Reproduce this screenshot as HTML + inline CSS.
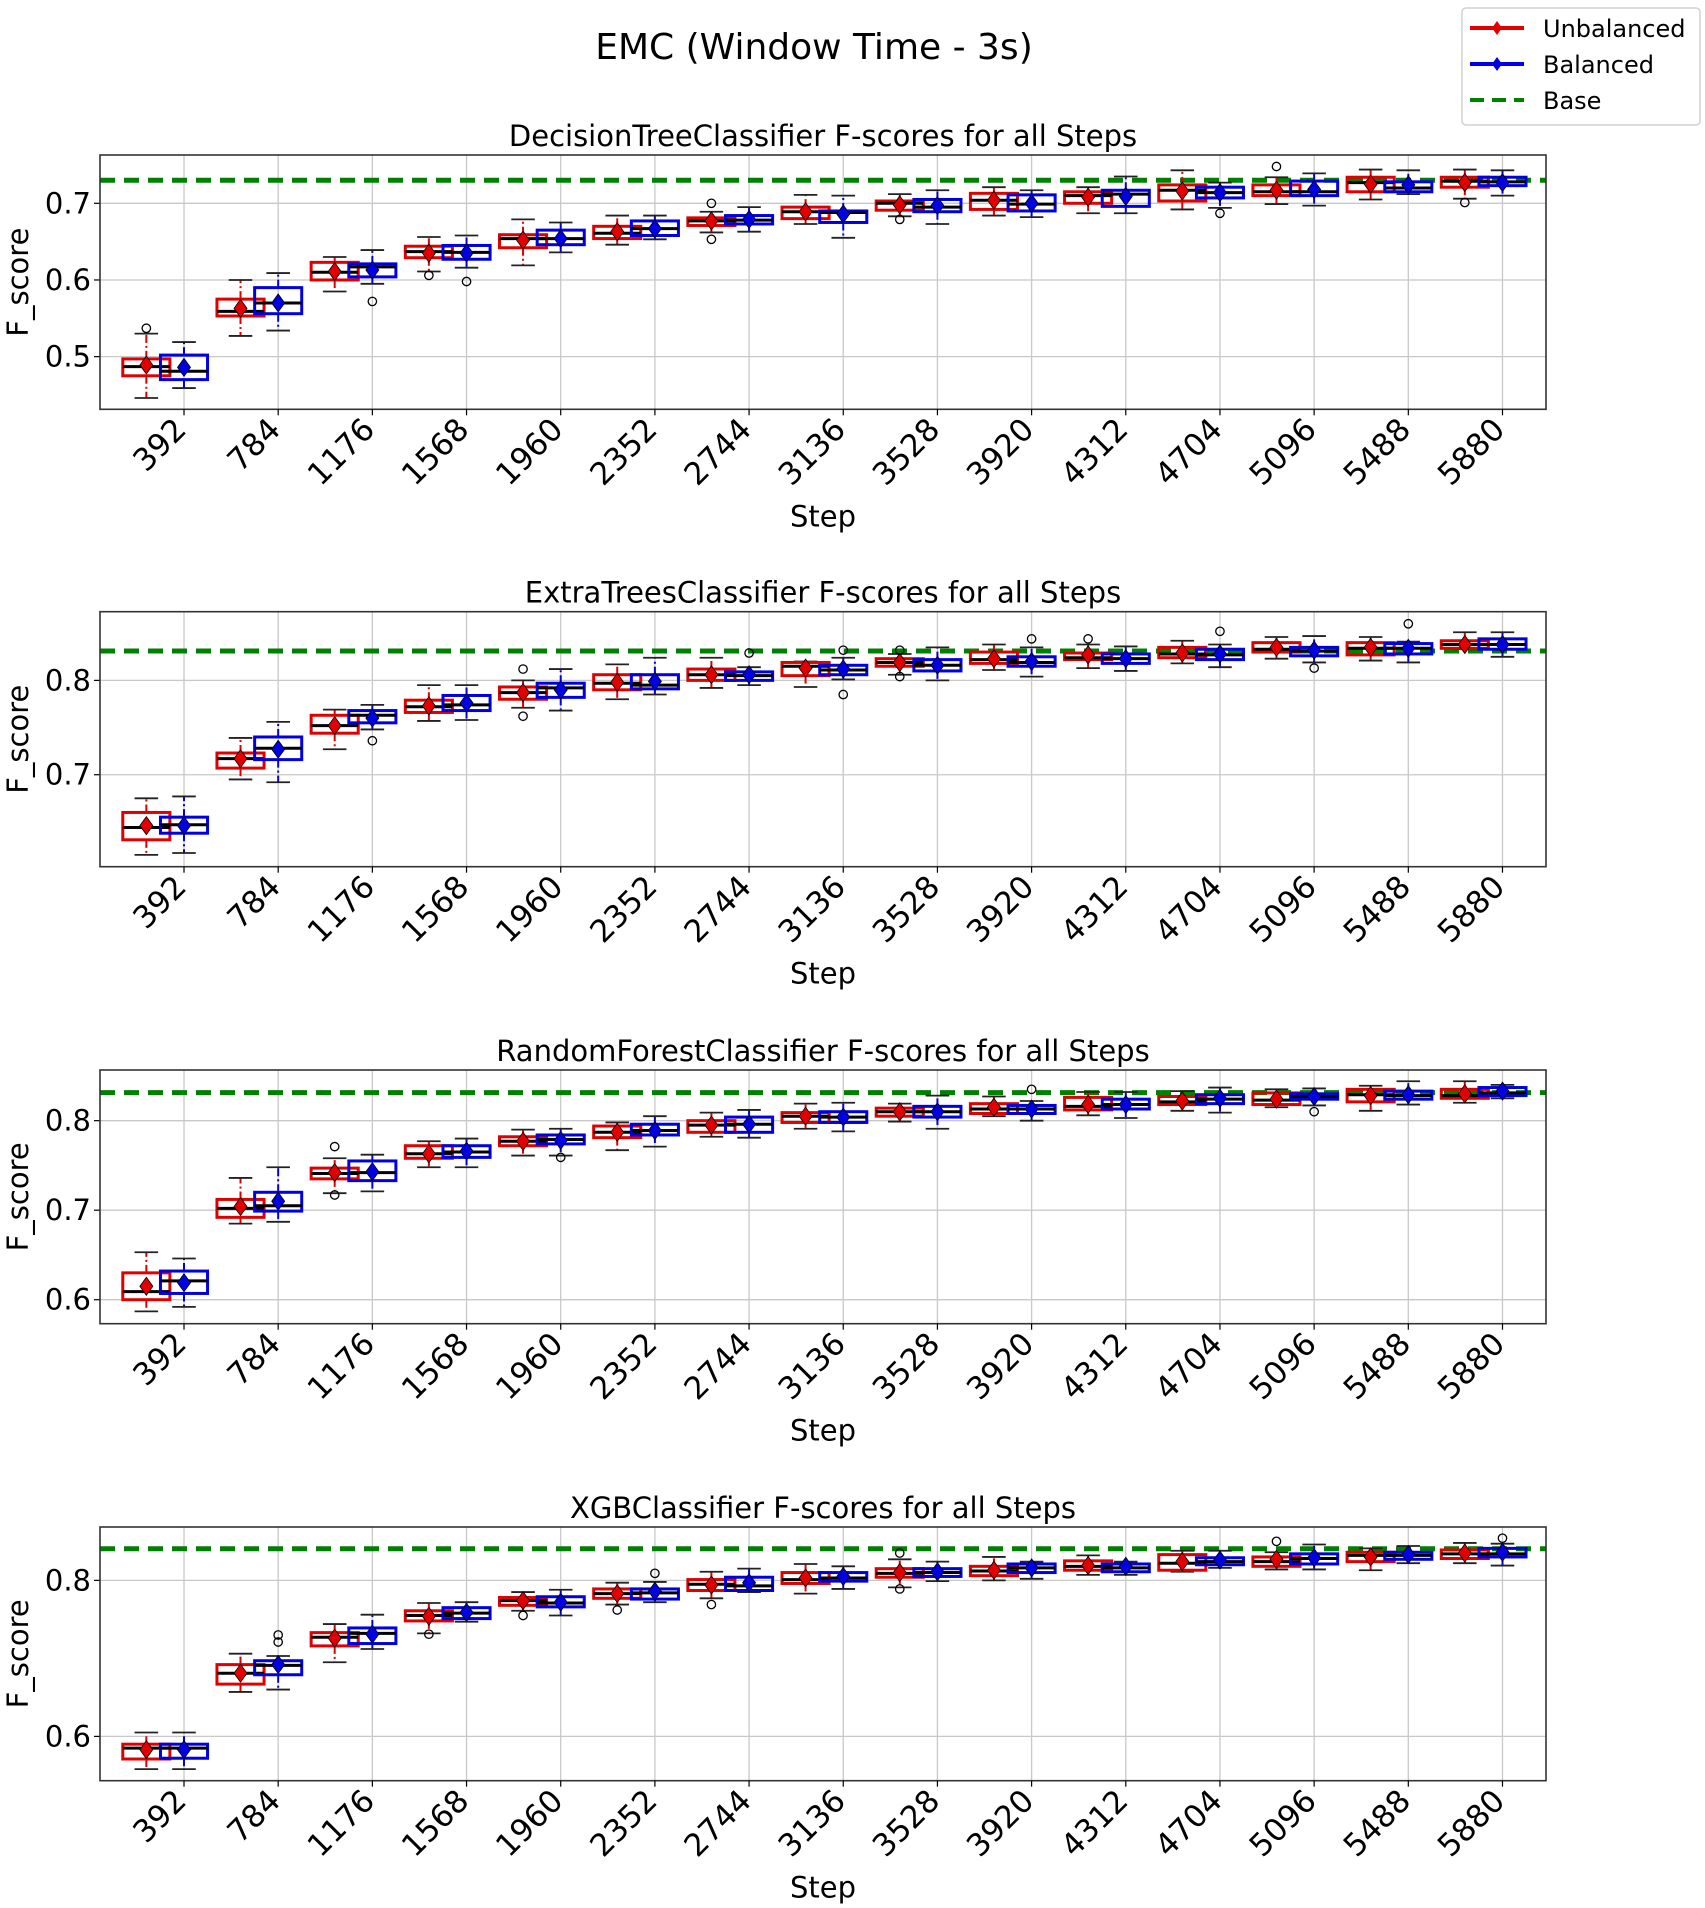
<!DOCTYPE html>
<html><head><meta charset="utf-8"><style>
html,body{margin:0;padding:0;background:#fff;}
svg{display:block;font-family:"DejaVu Sans","Liberation Sans",sans-serif;}
</style></head><body>
<svg id="chart" width="1705" height="1908" viewBox="0 0 1705 1908" xmlns="http://www.w3.org/2000/svg">
<rect width="1705" height="1908" fill="#fff"/>
<text x="814" y="59" font-size="36" text-anchor="middle" fill="#000">EMC (Window Time - 3s)</text>
<g>
<rect x="1462" y="8" width="238" height="117" rx="4" fill="#fff" stroke="#d0d0d0" stroke-width="1.5"/>
<g><line x1="1470" y1="28" x2="1524" y2="28" stroke="#e00000" stroke-width="4"/><path d="M1497 21 L1502 28 L1497 35 L1492 28Z" fill="#e00000"/><text x="1543" y="37" font-size="24">Unbalanced</text></g>
<g><line x1="1470" y1="64" x2="1524" y2="64" stroke="#0000e0" stroke-width="4"/><path d="M1497 57 L1502 64 L1497 71 L1492 64Z" fill="#0000e0"/><text x="1543" y="73" font-size="24">Balanced</text></g>
<g><line x1="1470" y1="100" x2="1524" y2="100" stroke="#008000" stroke-width="4" stroke-dasharray="14,8"/><text x="1543" y="109" font-size="24">Base</text></g>
</g>
</svg>
<script>
const steps = ["392","784","1176","1568","1960","2352","2744","3136","3528","3920","4312","4704","5096","5488","5880"];
const titles = ["DecisionTreeClassifier F-scores for all Steps","ExtraTreesClassifier F-scores for all Steps","RandomForestClassifier F-scores for all Steps","XGBClassifier F-scores for all Steps"];
const baseValues = [0.730, 0.8311, 0.8313, 0.8406];
const yTicks = [[0.5,0.6,0.7],[0.7,0.8],[0.6,0.7,0.8],[0.6,0.8]];
const yDomains = [[0.4313,0.763],[0.6025,0.8728],[0.5732,0.8566],[0.5432,0.8684]];

// Panel 1 - DecisionTree
const p1_uLo=[.446,.527,.585,.611,.619,.646,.662,.673,.683,.684,.687,.692,.699,.705,.706];
const p1_uQ1=[.475,.553,.600,.629,.642,.654,.671,.680,.691,.692,.700,.703,.710,.715,.721];
const p1_uMed=[.487,.559,.610,.637,.654,.661,.677,.689,.700,.704,.710,.717,.715,.727,.729];
const p1_uQ3=[.497,.575,.623,.644,.659,.670,.681,.695,.703,.713,.715,.724,.724,.734,.734];
const p1_uHi=[.530,.600,.630,.656,.679,.684,.689,.711,.712,.721,.721,.743,.734,.744,.744];
const p1_uMean=[.489,.563,.611,.635,.652,.663,.677,.689,.698,.704,.708,.716,.717,.725,.727];
const p1_bLo=[.459,.534,.595,.616,.636,.653,.663,.655,.673,.682,.687,.694,.697,.712,.710];
const p1_bQ1=[.470,.556,.604,.627,.646,.658,.673,.675,.689,.690,.696,.707,.710,.715,.723];
const p1_bMed=[.481,.570,.617,.636,.654,.667,.678,.688,.695,.699,.712,.714,.715,.720,.728];
const p1_bQ3=[.502,.590,.621,.645,.665,.677,.684,.690,.705,.711,.717,.721,.729,.728,.734];
const p1_bHi=[.519,.609,.639,.658,.675,.684,.695,.710,.717,.717,.735,.727,.739,.743,.743];
const p1_bMean=[.486,.570,.613,.635,.654,.667,.679,.686,.697,.700,.709,.714,.718,.724,.727];
const p1_outStep=[0,2,3,3,6,6,8,11,12,14];
const p1_outSeries=["u","b","u","b","u","u","u","b","u","u"];
const p1_outVal=[.537,.572,.606,.598,.700,.653,.679,.687,.748,.701];

// Panel 2 - ExtraTrees
const p2_uLo=[.615,.695,.727,.757,.771,.780,.792,.793,.806,.811,.813,.818,.823,.821,.833];
const p2_uQ1=[.631,.707,.744,.766,.780,.790,.800,.805,.815,.818,.822,.824,.830,.827,.834];
const p2_uMed=[.644,.717,.752,.772,.787,.797,.806,.815,.819,.822,.824,.828,.833,.834,.838];
const p2_uQ3=[.660,.723,.763,.779,.793,.806,.812,.819,.823,.830,.829,.835,.840,.840,.842];
const p2_uHi=[.675,.739,.769,.795,.800,.817,.824,.820,.828,.838,.838,.842,.846,.846,.851];
const p2_uMean=[.646,.717,.752,.773,.787,.798,.806,.813,.819,.823,.827,.829,.835,.835,.838];
const p2_bLo=[.617,.692,.748,.758,.768,.785,.795,.801,.800,.804,.810,.814,.819,.819,.825];
const p2_bQ1=[.638,.716,.755,.768,.782,.791,.800,.806,.810,.815,.818,.822,.826,.828,.833];
const p2_bMed=[.647,.728,.763,.774,.792,.795,.805,.811,.816,.819,.823,.827,.831,.834,.838];
const p2_bQ3=[.655,.740,.768,.784,.797,.806,.809,.816,.822,.825,.828,.833,.835,.839,.844];
const p2_bHi=[.677,.756,.774,.795,.812,.824,.814,.824,.835,.835,.836,.838,.847,.841,.851];
const p2_bMean=[.646,.727,.760,.776,.790,.799,.806,.812,.816,.820,.823,.828,.832,.834,.838];
const p2_outStep=[2,4,4,6,7,7,8,8,9,10,11,12,13];
const p2_outSeries=["b","u","u","b","b","b","u","u","b","u","b","b","b"];
const p2_outVal=[.736,.812,.762,.829,.832,.785,.832,.804,.844,.844,.852,.813,.860];

// Panel 3 - RandomForest
const p3_uLo=[.587,.685,.719,.748,.761,.767,.782,.791,.799,.805,.806,.811,.815,.811,.820];
const p3_uQ1=[.600,.692,.735,.758,.772,.781,.787,.798,.805,.808,.812,.818,.818,.821,.825];
const p3_uMed=[.609,.702,.741,.763,.777,.787,.795,.805,.810,.813,.816,.821,.823,.829,.828];
const p3_uQ3=[.630,.712,.747,.772,.782,.794,.800,.809,.814,.819,.826,.827,.831,.835,.835];
const p3_uHi=[.653,.736,.758,.777,.790,.798,.809,.819,.819,.827,.832,.833,.835,.839,.844];
const p3_uMean=[.615,.704,.742,.763,.777,.787,.795,.805,.810,.815,.818,.822,.824,.828,.830];
const p3_bLo=[.592,.687,.721,.748,.761,.771,.781,.788,.791,.800,.803,.809,.817,.818,.825];
const p3_bQ1=[.607,.699,.733,.759,.774,.784,.787,.798,.804,.808,.813,.819,.824,.824,.828];
const p3_bMed=[.621,.705,.742,.765,.779,.789,.796,.804,.810,.813,.818,.824,.827,.828,.831];
const p3_bQ3=[.632,.720,.755,.772,.784,.796,.804,.810,.816,.817,.824,.829,.830,.833,.837];
const p3_bHi=[.646,.748,.762,.780,.791,.805,.812,.820,.828,.822,.832,.837,.836,.844,.840];
const p3_bMean=[.619,.710,.743,.766,.778,.789,.796,.804,.810,.813,.818,.825,.827,.829,.833];
const p3_outStep=[2,2,4,9,12];
const p3_outSeries=["u","u","b","b","b"];
const p3_outVal=[.771,.717,.759,.835,.810];

// Panel 4 - XGB
const p4_uLo=[.558,.657,.695,.732,.761,.769,.777,.783,.791,.800,.807,.811,.814,.813,.822];
const p4_uQ1=[.571,.667,.716,.748,.768,.777,.787,.796,.804,.806,.813,.813,.818,.824,.828];
const p4_uMed=[.585,.681,.727,.755,.774,.783,.795,.801,.809,.812,.818,.822,.824,.832,.834];
const p4_uQ3=[.590,.692,.733,.761,.778,.789,.801,.810,.815,.818,.825,.833,.830,.836,.839];
const p4_uHi=[.605,.706,.744,.771,.785,.797,.811,.821,.827,.830,.832,.838,.836,.841,.848];
const p4_uMean=[.583,.681,.726,.754,.774,.783,.794,.803,.810,.813,.819,.824,.827,.830,.835];
const p4_bLo=[.558,.660,.712,.747,.755,.772,.785,.789,.799,.802,.807,.816,.814,.822,.819];
const p4_bQ1=[.572,.679,.719,.751,.766,.776,.787,.799,.805,.810,.811,.820,.821,.827,.830];
const p4_bMed=[.585,.691,.732,.758,.771,.784,.793,.803,.810,.816,.816,.824,.828,.832,.834];
const p4_bQ3=[.590,.697,.739,.765,.779,.789,.804,.810,.815,.821,.821,.829,.834,.836,.841];
const p4_bHi=[.605,.703,.756,.772,.788,.798,.815,.818,.824,.824,.824,.838,.846,.844,.847];
const p4_bMean=[.583,.692,.731,.759,.772,.786,.797,.805,.811,.816,.818,.826,.829,.833,.836];
const p4_outStep=[1,1,3,4,5,5,6,8,8,12,14];
const p4_outSeries=["b","b","u","u","u","b","u","u","u","u","b"];
const p4_outVal=[.730,.721,.731,.755,.762,.809,.769,.835,.789,.850,.854];

const panels = [
 {u:[p1_uLo,p1_uQ1,p1_uMed,p1_uQ3,p1_uHi,p1_uMean], b:[p1_bLo,p1_bQ1,p1_bMed,p1_bQ3,p1_bHi,p1_bMean], os:p1_outStep, oser:p1_outSeries, ov:p1_outVal},
 {u:[p2_uLo,p2_uQ1,p2_uMed,p2_uQ3,p2_uHi,p2_uMean], b:[p2_bLo,p2_bQ1,p2_bMed,p2_bQ3,p2_bHi,p2_bMean], os:p2_outStep, oser:p2_outSeries, ov:p2_outVal},
 {u:[p3_uLo,p3_uQ1,p3_uMed,p3_uQ3,p3_uHi,p3_uMean], b:[p3_bLo,p3_bQ1,p3_bMed,p3_bQ3,p3_bHi,p3_bMean], os:p3_outStep, oser:p3_outSeries, ov:p3_outVal},
 {u:[p4_uLo,p4_uQ1,p4_uMed,p4_uQ3,p4_uHi,p4_uMean], b:[p4_bLo,p4_bQ1,p4_bMed,p4_bQ3,p4_bHi,p4_bMean], os:p4_outStep, oser:p4_outSeries, ov:p4_outVal}
];

const NS="http://www.w3.org/2000/svg";
const svg=document.getElementById("chart");
function mk(tag,attrs,parent){const e=document.createElementNS(NS,tag);for(const k in attrs)e.setAttribute(k,attrs[k]);(parent||svg).appendChild(e);return e;}

const plotLeft=100, plotRight=1546;
const tops=[155,611.7,1070,1527], bottoms=[409.3,866.7,1323.7,1780.7];
const xMin=-0.892, xMax=14.462;
function xs(v){return plotLeft+(v-xMin)/(xMax-xMin)*(plotRight-plotLeft);}
const colors={u:"#e00000",b:"#0000e0"};
const offsets={u:-0.4,b:0};
const boxW=0.5;

panels.forEach((p,pi)=>{
  const top=tops[pi], bot=bottoms[pi], dom=yDomains[pi];
  const ys=v=>bot-(v-dom[0])/(dom[1]-dom[0])*(bot-top);
  const g=mk("g",{});
  
  
  const t=mk("text",{x:823,y:top-9,"font-size":29,"text-anchor":"middle"},g);
  t.textContent=titles[pi];
  
  
  steps.forEach((s,i)=>{
    const gl=mk("line",{x1:xs(i),x2:xs(i),y1:top,y2:bot,stroke:"#c8c8c8","stroke-width":1.3},g);
    
    
  });
  yTicks[pi].forEach(v=>{
    const gl=mk("line",{x1:plotLeft,x2:plotRight,y1:ys(v),y2:ys(v),stroke:"#c8c8c8","stroke-width":1.3},g);
    
    
    const tk=mk("line",{x1:plotLeft-6,x2:plotLeft,y1:ys(v),y2:ys(v),stroke:"#000","stroke-width":1.2},g);
    
    
    const tl=mk("text",{x:plotLeft-9,y:ys(v)+10,"font-size":29,"text-anchor":"end"},g);
    tl.textContent=String(v);
    
    
  });
  const bl=mk("line",{x1:plotLeft,x2:plotRight,y1:ys(baseValues[pi]),y2:ys(baseValues[pi]),stroke:"#008000","stroke-width":5,"stroke-dasharray":"15,9"},g);
  
  
  ["u","b"].forEach(sk=>{
    const d=p[sk], col=colors[sk];
    steps.forEach((s,i)=>{
      const c=i+offsets[sk];
      const x0=xs(c-boxW/2), x1=xs(c+boxW/2), cx=xs(c);
      const cw=(x1-x0)/2;
      const bg=mk("g",{},g);
      
      
      mk("line",{x1:cx,x2:cx,y1:ys(d[3][i]),y2:ys(d[4][i]),stroke:col,"stroke-width":2,"stroke-dasharray":"8,3,2,3"},bg);
      mk("line",{x1:cx,x2:cx,y1:ys(d[1][i]),y2:ys(d[0][i]),stroke:col,"stroke-width":2,"stroke-dasharray":"8,3,2,3"},bg);
      mk("line",{x1:cx-cw/2,x2:cx+cw/2,y1:ys(d[4][i]),y2:ys(d[4][i]),stroke:"#222","stroke-width":1.8},bg);
      mk("line",{x1:cx-cw/2,x2:cx+cw/2,y1:ys(d[0][i]),y2:ys(d[0][i]),stroke:"#222","stroke-width":1.8},bg);
      mk("rect",{x:x0,y:ys(d[3][i]),width:x1-x0,height:Math.max(1,ys(d[1][i])-ys(d[3][i])),fill:"none",stroke:col,"stroke-width":3},bg);
      mk("line",{x1:x0,x2:x1,y1:ys(d[2][i]),y2:ys(d[2][i]),stroke:"#000","stroke-width":3},bg);
      const my=ys(d[5][i]);
      const dm=mk("path",{d:`M${cx} ${my-9} L${cx+6.5} ${my} L${cx} ${my+9} L${cx-6.5} ${my}Z`,fill:col,stroke:"#000","stroke-width":0.8},bg);
      
      
    });
  });
  p.os.forEach((si,k)=>{
    const c=si+offsets[p.oser[k]];
    const o=mk("circle",{cx:xs(c),cy:ys(p.ov[k]),r:4.2,fill:"none",stroke:"#000","stroke-width":1.3},g);
    
    
  });
  const fr=mk("rect",{x:plotLeft,y:top,width:plotRight-plotLeft,height:bot-top,fill:"none",stroke:"#333","stroke-width":1.6},g);
  
  
  steps.forEach((s,i)=>{
    const tk=mk("line",{x1:xs(i),x2:xs(i),y1:bot,y2:bot+6,stroke:"#000","stroke-width":1.2},g);
    
    
    const ax=xs(i)+4, ay=bot+22;
    const tl=mk("text",{x:ax,y:ay,"font-size":31,"text-anchor":"end",transform:`rotate(-45 ${ax} ${ay})`},g);
    tl.textContent=s;
    
    
  });
  const xl=mk("text",{x:823,y:bot+117,"font-size":29,"text-anchor":"middle"},g);
  xl.textContent="Step";
  
  
  const yc=(top+bot)/2;
  const yl=mk("text",{x:28,y:yc,"font-size":29,"text-anchor":"middle",transform:`rotate(-90 28 ${yc})`},g);
  yl.textContent="F_score";
  
  
});
</script>
</body></html>
